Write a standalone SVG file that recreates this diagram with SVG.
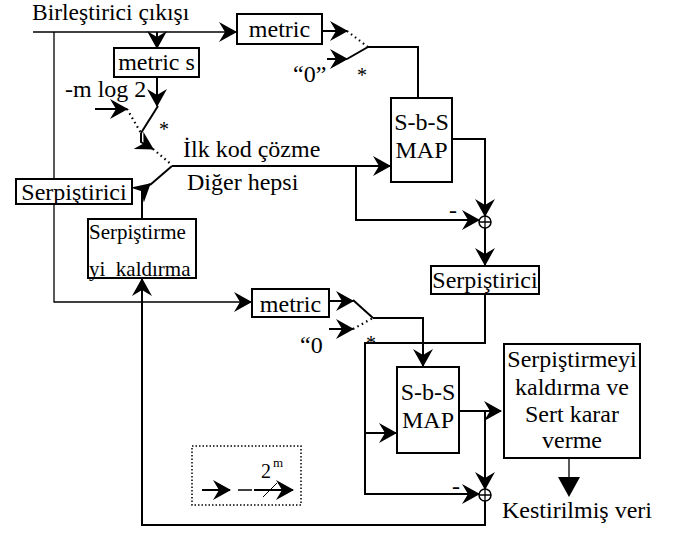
<svg xmlns="http://www.w3.org/2000/svg" width="673" height="539" viewBox="0 0 673 539" font-family="'Liberation Serif', 'DejaVu Serif', serif">
<style>
text{font-family:'Liberation Serif','DejaVu Serif',serif;font-size:24px;fill:#000}
.c{text-anchor:middle}
.box{fill:#fff;stroke:#000;stroke-width:2}
.w{fill:none;stroke:#000;stroke-width:2}
.t{fill:none;stroke:#000;stroke-width:1.3}
.d{fill:none;stroke:#000;stroke-width:2.2;stroke-dasharray:1.5 3.5}
.a{marker-end:url(#ah)}
</style>
<defs>
<marker id="ah" viewBox="0 0 18 20" markerUnits="userSpaceOnUse" markerWidth="18" markerHeight="20" refX="17" refY="10" orient="auto">
<path d="M0,0 L18,10 L0,20 L6,10 z" fill="#000"/>
</marker>
</defs>
<g id="connectors">
<path class="t a" d="M33,32 H236"/>
<path class="t a" d="M54,32 V302 H251"/>
<path class="w a" d="M157,32 V48"/>
<path class="w a" d="M322,31 H347"/>
<path class="w a" d="M327,59 H347"/>
<path class="d" d="M347,31 L368,47"/>
<path class="w" d="M347,59 L368,47 H418 V98"/>
<path class="w a" d="M157,77 V106"/>
<path class="w a" d="M95,109 H127"/>
<path class="d" d="M127,109 L141,133"/>
<path class="w" d="M158,106 L141,133"/>
<path class="w a" d="M141,133 V142 L153,149"/>
<path class="d" d="M153,149 L172,165"/>
<path class="w a" d="M172,166 H390"/>
<path class="w" d="M172,166 L150,185"/>
<path class="w a" d="M142,219 V191 L150,184"/>
<path class="w a" d="M356,166 V220 H479"/>
<path class="w a" d="M452,139 H485 V216"/>
<path class="w a" d="M485,228 V265"/>
<path class="w a" d="M485,294 V343 H365 V494 H479"/>
<path class="w a" d="M365,433 H396"/>
<path class="w a" d="M329,301 H353"/>
<path class="w a" d="M329,329 H353"/>
<path class="w" d="M353,300 L373,318"/>
<path class="d" d="M353,329 L373,318"/>
<path class="w a" d="M373,318 H423 V366"/>
<path class="w a" d="M459,411 H501"/>
<path class="w a" d="M485,411 V489"/>
<path class="w a" d="M485,501 V525 H142 V279"/>
<path class="t" d="M569,458 V477"/>
<polygon points="558,477 580,477 569,497" fill="#000"/>
</g>
<g id="sum1"><circle cx="485" cy="222" r="6" fill="#fff" stroke="#000" stroke-width="1.5"/><path d="M479,222 H491 M485,216 V228" stroke="#000" stroke-width="1.3"/></g>
<g id="sum2"><circle cx="485" cy="495" r="6" fill="#fff" stroke="#000" stroke-width="1.5"/><path d="M479,495 H491 M485,489 V501" stroke="#000" stroke-width="1.3"/></g>
<g id="title"><text x="32" y="20" style="font-size:23.5px">Birleştirici çıkışı</text></g>
<g id="metric1"><rect class="box" x="237" y="14" width="85" height="30"/><text class="c" x="279.5" y="37">metric</text></g>
<g id="metrics"><rect class="box" x="114" y="48" width="85" height="29"/><text class="c" x="156.5" y="70">metric s</text></g>
<g id="labels1">
<text x="65" y="97">-m log 2</text>
<text x="293" y="82">“0”</text>
<text class="c" x="362" y="82" style="font-size:20px">*</text>
<text class="c" x="164" y="136" style="font-size:20px">*</text>
<text x="183" y="157">İlk kod çözme</text>
<text x="187" y="190">Diğer hepsi</text>
<text class="c" x="453" y="218">-</text>
</g>
<g id="map1"><rect class="box" x="391" y="98" width="61" height="84"/><text class="c" x="421.5" y="130">S-b-S</text><text class="c" x="421.5" y="158">MAP</text></g>
<g id="serp1"><rect class="box" x="16" y="179" width="116" height="25"/><text class="c" x="74" y="200">Serpiştirici</text></g>
<g id="deint1"><rect class="box" x="88" y="219" width="108" height="59"/><text x="89" y="239" style="font-size:21px">Serpiştirme</text><text x="89" y="276" style="font-size:21px;white-space:pre" xml:space="preserve">yi  kaldırma</text></g>
<g id="serp2"><rect class="box" x="431" y="266" width="108" height="28"/><text class="c" x="485" y="288">Serpiştirici</text></g>
<g id="metric2"><rect class="box" x="252" y="289" width="77" height="28"/><text class="c" x="290.5" y="312">metric</text></g>
<g id="labels2">
<text x="300" y="353">“0</text>
<text class="c" x="371" y="350" style="font-size:20px">*</text>
<text class="c" x="456" y="494">-</text>
</g>
<g id="map2"><rect class="box" x="397" y="367" width="62" height="86"/><text class="c" x="428" y="400">S-b-S</text><text class="c" x="428" y="428">MAP</text></g>
<g id="decide"><rect class="box" x="504" y="344" width="136" height="114"/>
<text class="c" x="572" y="367">Serpiştirmeyi</text><text class="c" x="572" y="395">kaldırma ve</text><text class="c" x="572" y="422">Sert karar</text><text class="c" x="572" y="448">verme</text></g>
<g id="out"><text class="c" x="577" y="518">Kestirilmiş veri</text></g>
<g id="legend">
<rect x="192" y="446" width="109" height="59" fill="none" stroke="#000" stroke-width="1.5" stroke-dasharray="1.5 2"/>
<path class="w a" d="M202,490 H230"/>
<path d="M238,490 H252" stroke="#000" stroke-width="1.5"/>
<path class="w a" d="M254,490 H293"/>
<path d="M263,497 L277,483" stroke="#000" stroke-width="1"/>
<text x="261" y="478" style="font-size:20px">2</text>
<text x="273" y="467" style="font-size:13px">m</text>
</g>
</svg>
